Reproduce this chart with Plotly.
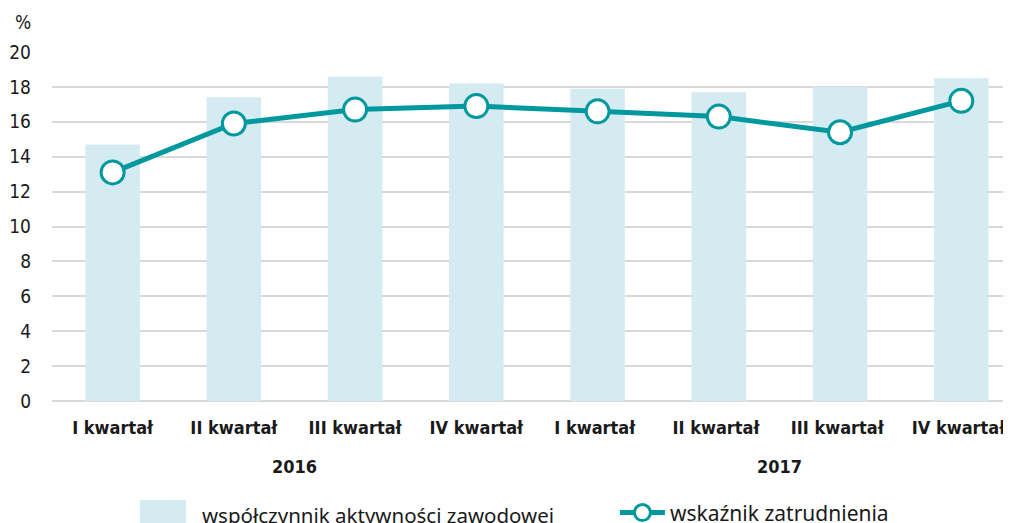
import plotly.graph_objects as go

categories = ["I kwartał", "II kwartał", "III kwartał", "IV kwartał",
              "I kwartał ", "II kwartał ", "III kwartał ", "IV kwartał "]
years = ["2016", "2017"]
activity = [14.7, 17.4, 18.6, 18.2, 17.9, 17.7, 18.0, 18.5]
employment = [13.1, 15.9, 16.7, 16.9, 16.6, 16.3, 15.4, 17.2]
y_ticks = [0, 2, 4, 6, 8, 10, 12, 14, 16, 18, 20]
bar_label = "współczynnik aktywności zawodowej"
line_label = "wskaźnik zatrudnienia"

FONT = "DejaVu Sans Condensed, Liberation Sans Narrow, Roboto, sans-serif"
LFONT = "Noto Sans, Open Sans, sans-serif"
TEAL = "#00989f"
BAR = "#d5ebf2"
TXT = "#1a1a1a"

fig = go.Figure()
fig.add_trace(go.Bar(x=categories, y=activity, name=bar_label,
                     marker=dict(color=BAR, line=dict(width=0)), width=0.45,
                     showlegend=False))
fig.add_trace(go.Scatter(x=categories, y=employment, name=line_label,
                         mode="lines+markers",
                         line=dict(color=TEAL, width=5),
                         marker=dict(size=23, color="white", line=dict(color=TEAL, width=3)),
                         legend="legend2"))

# page has an 8px body margin: size figure so it fills the 1011x523 window
W, H = 1003, 515
ml, mr, mt, mb = 44, 0, 44, 122
fig.update_layout(
    width=W, height=H,
    margin=dict(l=ml, r=mr, t=mt, b=mb, autoexpand=False),
    plot_bgcolor="white", paper_bgcolor="white",
    font=dict(family=FONT, size=17, color=TXT),
    showlegend=True,
    legend2=dict(orientation="h", x=0.587, xanchor="left", y=-0.262, yanchor="top",
                 font=dict(size=21, family=LFONT, color=TXT), itemwidth=45,
                 bgcolor="rgba(0,0,0,0)"),
    bargap=0.5,
)
fig.update_xaxes(type="category", range=[-0.5, 7.41], showgrid=False, showline=False,
                 tickfont=dict(size=18, family=FONT, color=TXT),
                 ticklabelstandoff=14, tickprefix="<b>", ticksuffix="</b>")
fig.update_yaxes(range=[0, 20], tickvals=y_ticks, showgrid=True, gridcolor="#d9d9d9",
                 gridwidth=2, zeroline=True, zerolinecolor="#d9d9d9", zerolinewidth=2,
                 showline=False, tickfont=dict(size=19, family=FONT, color=TXT),
                 ticklabelstandoff=20)

# manual legend entry for the bars (wide swatch as in the reference)
fig.add_shape(type="rect", xref="paper", yref="paper",
              x0=0.0918, x1=0.1397, y0=-0.3496, y1=-0.2837,
              fillcolor=BAR, line=dict(width=0), layer="above")
fig.add_annotation(text=bar_label, xref="paper", yref="paper", x=0.1543, y=-0.3266,
                   xanchor="left", yanchor="middle", showarrow=False,
                   font=dict(size=20.5, family=LFONT, color=TXT))

fig.add_annotation(text="%", xref="paper", yref="paper", x=-0.0407, y=1.086,
                   xanchor="left", yanchor="middle", showarrow=False,
                   font=dict(size=19, family=FONT, color=TXT))
for i, yr in enumerate(years):
    fig.add_annotation(text="<b>" + yr + "</b>", xref="x", yref="paper",
                       x=1.5 + 4 * i, y=-0.189, yanchor="middle", showarrow=False,
                       font=dict(size=18, family=FONT, color=TXT))

fig.write_html("out.html")
